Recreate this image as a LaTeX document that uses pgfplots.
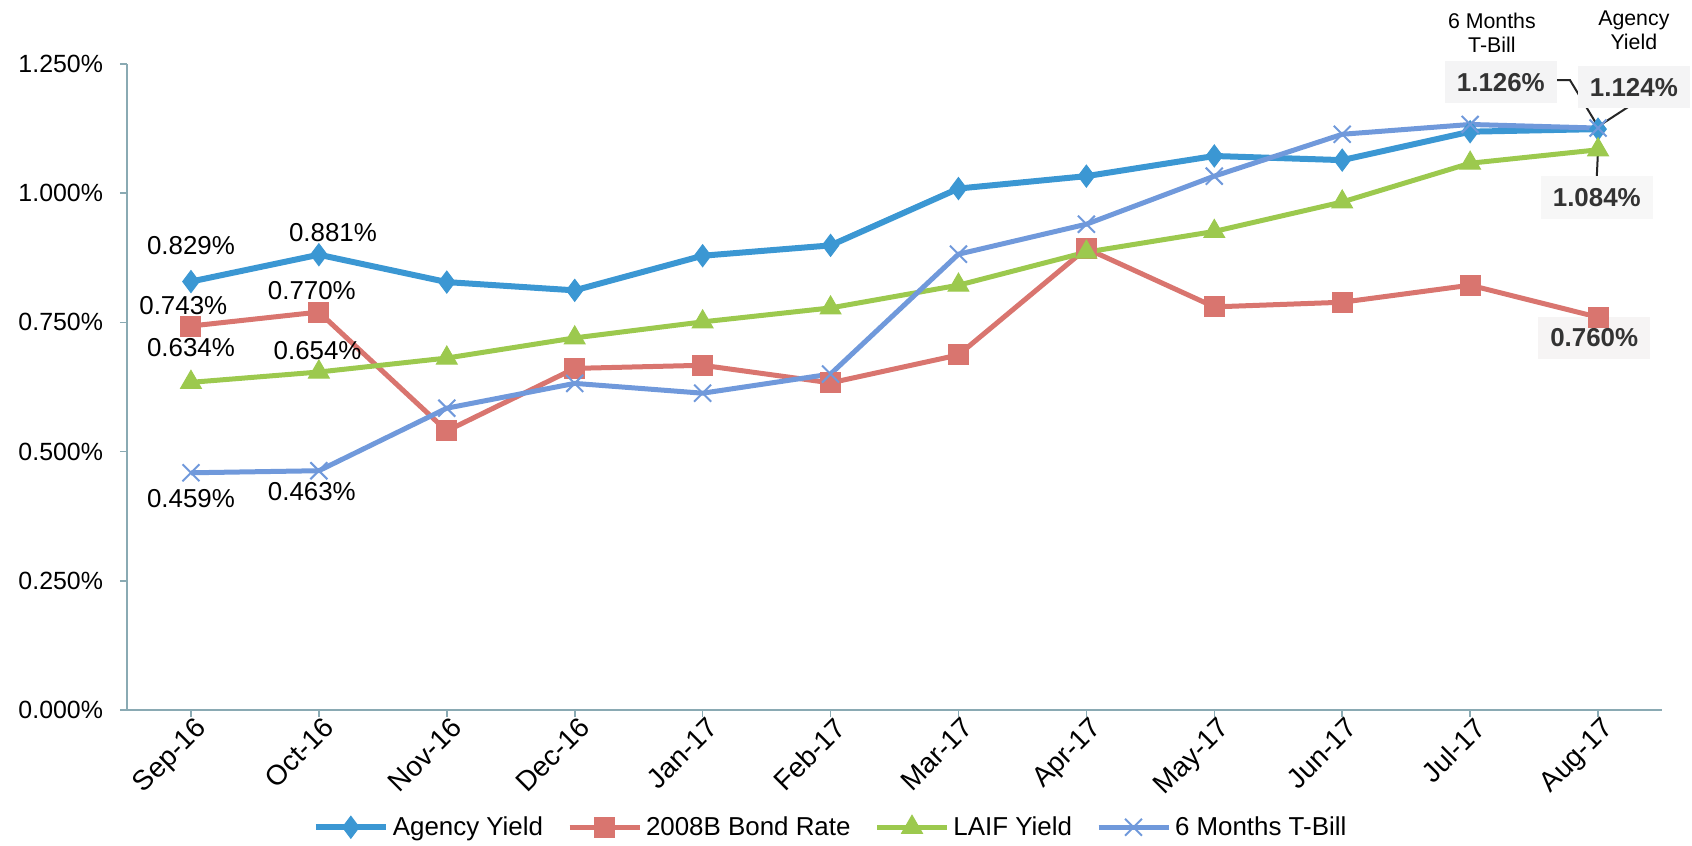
\documentclass[border=0pt]{standalone}
\usepackage{pgfplots}
\pgfplotsset{compat=1.18}
\usepackage{fontspec}
\setmainfont{Liberation Sans}
\definecolor{cAg}{HTML}{3B97D3}
\definecolor{cBd}{HTML}{D9756F}
\definecolor{cLf}{HTML}{9CC94E}
\definecolor{cTb}{HTML}{7099DB}
\definecolor{cAx}{HTML}{8AAAB3}
\begin{document}
\begin{tikzpicture}
\path[use as bounding box] (-63.5bp,-68bp) rectangle (782.5bp,355bp);
\begin{axis}[
  at={(0,0)}, anchor=south west,
  scale only axis, width=767.5bp, height=323bp,
  xmin=-0.5, xmax=11.5, ymin=0, ymax=1.25,
  axis x line=bottom, axis y line=left,
  axis line style={-, draw=cAx, line width=0.9bp},
  tick align=outside, major tick length=3.5bp,
  tick style={draw=cAx, line width=0.8bp},
  xtick={0,...,11},
  xticklabels={Sep-16,Oct-16,Nov-16,Dec-16,Jan-17,Feb-17,Mar-17,Apr-17,May-17,Jun-17,Jul-17,Aug-17},
  xticklabel style={rotate=45, anchor=north east, font=\fontsize{14}{16}\selectfont, xshift=3bp, yshift=1bp, inner sep=1.5bp},
  ytick={0,0.25,0.5,0.75,1,1.25},
  yticklabels={0.000\%,0.250\%,0.500\%,0.750\%,1.000\%,1.250\%},
  yticklabel style={font=\fontsize{12.5}{15}\selectfont, xshift=-5bp},
  clip=false,
  legend columns=4,
  legend style={draw=none, at={(0.459,0)}, anchor=north, yshift=-49bp,
    font=\fontsize{13}{15}\selectfont, /tikz/every even column/.append style={column sep=10bp}},
  legend image code/.code={\draw[mark repeat=2,mark phase=2] plot coordinates {(0bp,0bp) (17.5bp,0bp) (35bp,0bp)};},
]
\addplot[cAg, line width=3bp, mark=diamond*, mark size=5.5bp, mark options={solid, line width=0.5bp}] coordinates {
(0,0.829) (1,0.881) (2,0.828) (3,0.812) (4,0.879) (5,0.899) (6,1.009) (7,1.033) (8,1.072) (9,1.064) (10,1.119) (11,1.124)};
\addlegendentry{Agency Yield}
\addplot[cBd, line width=2.5bp, mark=square*, mark size=5bp, mark options={solid, line width=0.5bp}] coordinates {
(0,0.743) (1,0.770) (2,0.540) (3,0.661) (4,0.667) (5,0.633) (6,0.687) (7,0.893) (8,0.780) (9,0.789) (10,0.822) (11,0.760)};
\addlegendentry{2008B Bond Rate}
\addplot[cLf, line width=2.5bp, mark=triangle*, mark size=6bp, mark options={solid, line width=0.5bp}] coordinates {
(0,0.634) (1,0.654) (2,0.681) (3,0.720) (4,0.751) (5,0.778) (6,0.822) (7,0.886) (8,0.926) (9,0.983) (10,1.058) (11,1.084)};
\addlegendentry{LAIF Yield}
\addplot[cTb, line width=2.5bp, mark=x, mark size=6bp, mark options={solid, line width=1bp}] coordinates {
(0,0.459) (1,0.463) (2,0.584) (3,0.632) (4,0.613) (5,0.650) (6,0.882) (7,0.940) (8,1.033) (9,1.114) (10,1.133) (11,1.126)};
\addlegendentry{6 Months T-Bill}
% data labels
\begin{scope}[every node/.style={font=\fontsize{13}{15}\selectfont, inner sep=1bp}]
\node at (axis cs:0,0.899) {0.829\%};
\node at (axis cs:1.11,0.923) {0.881\%};
\node at (axis cs:-0.06,0.783) {0.743\%};
\node at (axis cs:0.945,0.812) {0.770\%};
\node at (axis cs:0,0.702) {0.634\%};
\node at (axis cs:0.99,0.696) {0.654\%};
\node at (axis cs:0,0.410) {0.459\%};
\node at (axis cs:0.945,0.422) {0.463\%};
\end{scope}
\node[font=\fontsize{10.7}{12}\selectfont, align=center, inner sep=0pt] at (axis cs:10.17,1.311) {6 Months\\T-Bill};
\node[font=\fontsize{10.7}{12}\selectfont, align=center, inner sep=0pt] at (axis cs:11.28,1.315) {Agency\\Yield};
\draw[black!85, line width=1bp] (axis cs:10.66,1.219) -- (axis cs:10.78,1.219) -- (axis cs:11,1.129);
\draw[black!85, line width=1bp] (axis cs:11.28,1.174) -- (axis cs:11,1.129);
\draw[black!85, line width=1bp] (axis cs:11,1.084) -- (axis cs:10.99,1.031);
\begin{scope}[every node/.style={font=\bfseries\fontsize{13}{15}\selectfont, text=black!80, inner xsep=6bp, inner ysep=6bp}]
\node[fill=blue!4!gray!8] at (axis cs:10.24,1.215) {1.126\%};
\node[fill=blue!4!gray!8] at (axis cs:11.28,1.205) {1.124\%};
\node[fill=gray!6] at (axis cs:10.99,0.992) {1.084\%};
\node[fill=red!8!gray!8] at (axis cs:10.97,0.720) {0.760\%};
\end{scope}
\end{axis}
\end{tikzpicture}
\end{document}
